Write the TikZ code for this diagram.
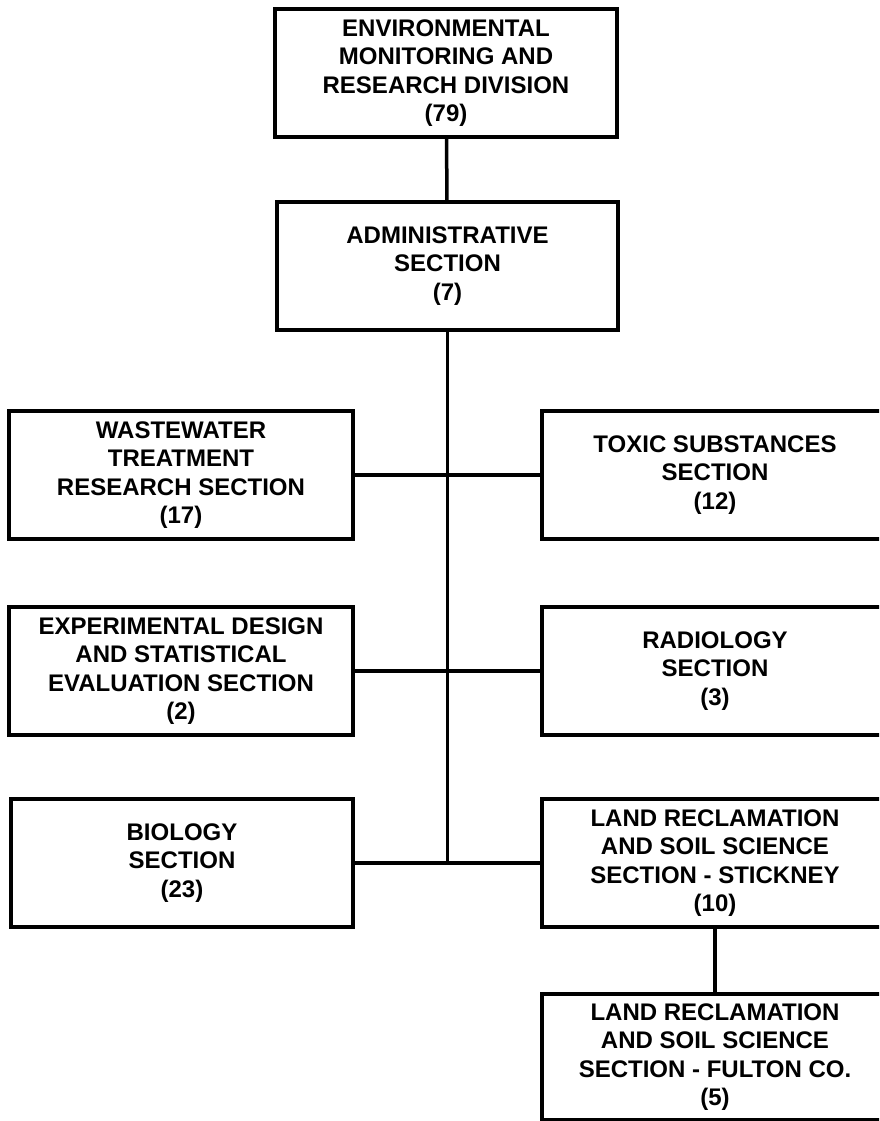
\documentclass[tikz,border=0pt]{standalone}
\usepackage{fontspec}
\setmainfont{Liberation Sans}
\tikzstyle{unit}=[draw=black,line width=3.5pt,align=center,inner sep=0pt,minimum width=344pt,minimum height=128pt,font=\fontsize{24}{28.5}\selectfont\bfseries]
\tikzstyle{link}=[draw=black,line width=3.5pt]

\begin{document}
\begin{tikzpicture}[x=1pt,y=-1pt]
  \path[use as bounding box,clip] (0,0) rectangle (879,1121);
  \node[unit,minimum width=342pt] (emrd) at (446,73) {ENVIRONMENTAL\\MONITORING AND\\RESEARCH DIVISION\\(79)};
  \node[unit,minimum width=341pt] (admin) at (447.5,266) {ADMINISTRATIVE\\SECTION\\(7)};
  \node[unit] (wwtr) at (181,475) {WASTEWATER\\TREATMENT\\RESEARCH SECTION\\(17)};
  \node[unit,minimum width=346pt] (toxic) at (715,475) {TOXIC SUBSTANCES\\SECTION\\(12)};
  \node[unit] (edse) at (181,671) {EXPERIMENTAL DESIGN\\AND STATISTICAL\\EVALUATION SECTION\\(2)};
  \node[unit,minimum width=346pt] (radio) at (715,671) {RADIOLOGY\\SECTION\\(3)};
  \node[unit,minimum width=342pt] (bio) at (182,863) {BIOLOGY\\SECTION\\(23)};
  \node[unit,minimum width=346pt] (stickney) at (715,863) {LAND RECLAMATION\\AND SOIL SCIENCE\\SECTION - STICKNEY\\(10)};
  \node[unit,minimum width=346pt,minimum height=126pt] (fulton) at (715,1057) {LAND RECLAMATION\\AND SOIL SCIENCE\\SECTION - FULTON CO.\\(5)};

  \draw[link] (emrd) -- (admin);
  \draw[link] (admin) -- (admin.south |- bio.east);
  \draw[link] (wwtr) -- (toxic);
  \draw[link] (edse) -- (radio);
  \draw[link] (bio) -- (stickney);
  \draw[link] (stickney) -- (fulton);
\end{tikzpicture}
\end{document}
